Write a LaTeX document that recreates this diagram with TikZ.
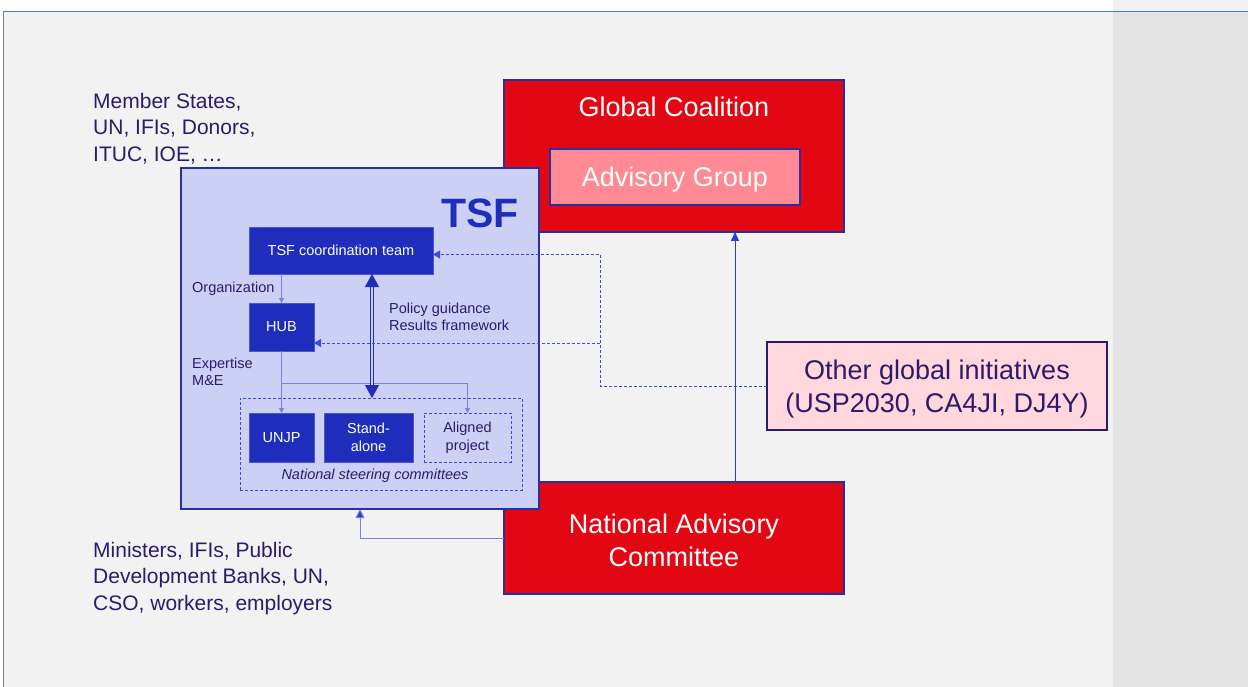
\documentclass[tikz,border=0pt]{standalone}
\usepackage{fontspec}
\setmainfont{Liberation Sans}
\usetikzlibrary{arrows.meta,calc}
\definecolor{bgray}{HTML}{F2F2F2}
\definecolor{sgray}{HTML}{E3E3E3}
\definecolor{tgray}{HTML}{F0F0F0}
\definecolor{tsffill}{HTML}{CCD0F5}
\definecolor{tsfedge}{HTML}{2A2E9E}
\definecolor{dblue}{HTML}{1F2DBD}
\definecolor{txt}{HTML}{2D1B69}
\definecolor{ired}{HTML}{E30613}
\definecolor{apink}{HTML}{FF8A94}
\definecolor{lpink}{HTML}{FFD7DC}
\definecolor{lnblue}{HTML}{2B3BD0}
\definecolor{ltblue}{HTML}{7880E0}
\definecolor{dashblue}{HTML}{3A4BE0}
\definecolor{frameblue}{HTML}{4F7BC0}
\begin{document}
\begin{tikzpicture}[x=1pt,y=-1pt,
  box/.style={rectangle, anchor=north west, inner sep=0pt, outer sep=0pt},
  bluebox/.style={box, fill=dblue, draw=dblue!80!white, line width=0.8pt, text=white, align=center, font=\fontsize{14.5}{18}\selectfont},
  redbox/.style={box, fill=ired, draw=tsfedge, line width=1.2pt},
  smalltxt/.style={text=txt, align=left, inner sep=0pt, font=\fontsize{14.5}{17.5}\selectfont},
  bigtxt/.style={text=txt, align=left, inner sep=0pt, font=\fontsize{21}{26.5}\selectfont},
  wtxt/.style={text=white, align=center, inner sep=0pt, font=\fontsize{27}{33}\selectfont},
  dsh/.style={draw=dashblue, line width=0.8pt, dash pattern=on 3pt off 2pt},
  thinarr/.style={draw=ltblue, line width=0.9pt, -{Triangle[width=5pt,length=5pt]}},
  dasharr/.style={dsh, -{Triangle[width=8pt,length=7pt,fill=dashblue]}},
]
\useasboundingbox (0,0) rectangle (1248,687);
% background
\fill[white] (0,0) rectangle (1248,687);
\fill[bgray] (4,12) rectangle (1113,687);
\fill[tgray] (1113,0) rectangle (1248,11);
\fill[sgray] (1113,12) rectangle (1248,687);
\draw[frameblue, line width=1.2pt] (3,11.5) -- (1248,11.5);
\draw[gray, line width=0.8pt] (3.5,12) -- (3.5,687);

% red boxes (behind TSF)
\node[redbox, minimum width=340pt, minimum height=152pt] (gc) at (504,80) {};
\node[wtxt] (gct) at (674,107) {Global Coalition};
\node[box, minimum width=250pt, minimum height=56pt, fill=apink, draw=tsfedge, line width=1.2pt] (ag) at (550,149) {};
\node[wtxt] at ($(ag.center)+(0,3)$) {Advisory Group};
\node[redbox, minimum width=340pt, minimum height=112pt] (nac) at (504,482) {};
\node[wtxt] at (674,540) {National Advisory\\Committee};

% other global initiatives
\node[box, minimum width=340pt, minimum height=88pt, fill=lpink, draw=txt, line width=1.2pt] (ogi) at (767,342) {};
\node[text=txt, align=center, inner sep=0pt, font=\fontsize{27}{33}\selectfont] at ($(ogi.center)+(0,3)$) {Other global initiatives\\(USP2030, CA4JI, DJ4Y)};

% TSF box
\node[box, minimum width=358pt, minimum height=341pt, fill=tsffill, draw=tsfedge, line width=1.5pt] (tsf) at (181,168) {};
\node[text=dblue, inner sep=0pt, font=\fontsize{41}{41}\selectfont\bfseries] (tsft) at (480,213) {TSF};

\node[bluebox, minimum width=184pt, minimum height=47pt] (ct) at (249,227) {TSF coordination team};
\node[bluebox, minimum width=65pt, minimum height=48pt] (hub) at (249,303) {HUB};
\node[box, minimum width=282pt, minimum height=92pt, dsh] (nsc) at (240,398) {};
\node[bluebox, minimum width=65pt, minimum height=49pt] (unjp) at (249,413) {UNJP};
\node[bluebox, minimum width=89pt, minimum height=49pt] (sa) at (324,413) {Stand-\\alone};
\node[box, minimum width=87pt, minimum height=49pt, dsh, text=txt, align=center, font=\fontsize{14.5}{18}\selectfont] (ap) at (424,413) {Aligned\\project};
\node[smalltxt, font=\fontsize{14.5}{17.5}\selectfont\itshape] at (375,476) {National steering committees};

\node[smalltxt, anchor=west] at (192,289) {Organization};
\node[smalltxt, anchor=west] at (192,372) {Expertise\\M\&E};
\node[smalltxt, anchor=west] at (389,317) {Policy guidance\\Results framework};

% left texts
\node[bigtxt, anchor=west] at (93,128.5) {Member States,\\UN, IFIs, Donors,\\ITUC, IOE, \dots};
\node[bigtxt, anchor=west] at (93,578.5) {Ministers, IFIs, Public\\Development Banks, UN,\\CSO, workers, employers};

% connectors inside TSF
\draw[thinarr] (hub.north |- ct.south) -- (hub.north);
\draw[thinarr] (hub.south) -- (unjp.north);
\coordinate (br) at ($(hub.south)+(0,32)$);
\draw[thinarr] (br) -| (ap.north);

\coordinate (dbx) at (372,0);
\draw[draw=dblue, line width=1.1pt, double=tsffill, double distance=1.6pt,
  {Triangle[width=14pt,length=13pt]}-{Triangle[width=14pt,length=13pt]}]
  (ct.south -| dbx) -- (nsc.north -| dbx);

% dashed connectors from other global initiatives
\coordinate (dx) at (600,0);
\coordinate (ctin) at ($(ct.east)+(0,4)$);
\coordinate (hubin) at ($(hub.east)+(0,16)$);
\draw[dasharr] (ogi.west) -| (dx |- ctin) -- (ctin);
\draw[dasharr] (dx |- hubin) -- (hubin);

% NAC connectors
\coordinate (nx) at (735,0);
\draw[draw=lnblue, line width=0.9pt, -{Triangle[width=8pt,length=9pt]}] (nac.north -| nx) -- (gc.south -| nx);
\draw[draw=ltblue, line width=1pt, -{Triangle[width=9pt,length=9pt,fill=lnblue]}] (nac.west) -| (tsf.south);
\end{tikzpicture}
\end{document}
